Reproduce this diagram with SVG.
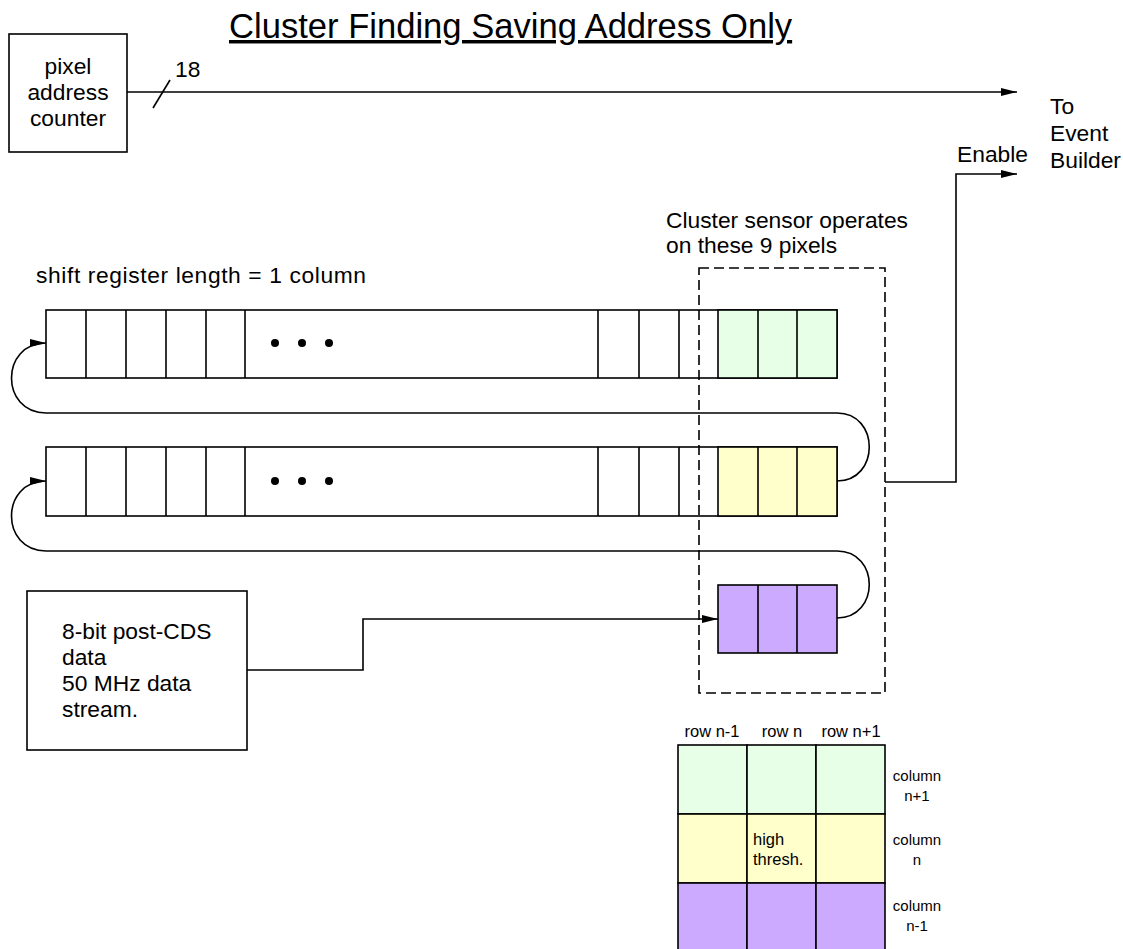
<svg xmlns="http://www.w3.org/2000/svg" width="1123" height="949" viewBox="0 0 1123 949">
<defs>
<marker id="arr" markerWidth="17" markerHeight="10" refX="16" refY="5" orient="auto" markerUnits="userSpaceOnUse"><path d="M0,1 L16,5 L0,9 Z" fill="#000"/></marker>
<style>
.ln{fill:none;stroke:#000;stroke-width:1.6}
.box{fill:#fff;stroke:#000;stroke-width:1.6}
.g{fill:#E6FFE6;stroke:#000;stroke-width:1.6}
.y{fill:#FFFFCC;stroke:#000;stroke-width:1.6}
.p{fill:#CCAAFF;stroke:#000;stroke-width:1.6}
.dash{fill:none;stroke:#000;stroke-width:1.6;stroke-dasharray:10 5}
.t{font-family:"Liberation Sans",Arial,sans-serif;font-size:22.8px;fill:#000}
.s{font-family:"Liberation Sans",Arial,sans-serif;font-size:16.5px;fill:#000}
.c{font-family:"Liberation Sans",Arial,sans-serif;font-size:15px;fill:#000;text-anchor:middle}
.m{text-anchor:middle}
</style>
</defs>
<rect width="1123" height="949" fill="#fff"/>

<text id="title" x="229" y="38" font-family="Liberation Sans, Arial, sans-serif" font-size="34.6" text-decoration="underline">Cluster Finding Saving Address Only</text>

<g id="counter">
<rect class="box" x="9" y="34" width="118" height="118"/>
<text class="t m" x="68" y="74">pixel</text>
<text class="t m" x="68" y="100">address</text>
<text class="t m" x="68" y="126">counter</text>
</g>

<g id="dest">
<text class="t" x="1050" y="114">To</text>
<text class="t" x="1050" y="141">Event</text>
<text class="t" x="1050" y="168">Builder</text>
</g>

<g id="reg1">
<rect class="box" x="46" y="310" width="791" height="68"/>
<rect class="g" x="718" y="310" width="119" height="68"/>
<path class="ln" d="M86,310V378M126,310V378M166,310V378M206,310V378M245,310V378M598,310V378M639,310V378M679,310V378M758,310V378M797,310V378"/>
<circle cx="275" cy="343" r="4"/><circle cx="302" cy="343" r="4"/><circle cx="329" cy="343" r="4"/>
</g>

<g id="reg2">
<rect class="box" x="46" y="447" width="791" height="69"/>
<rect class="y" x="718" y="447" width="119" height="69"/>
<path class="ln" d="M86,447V516M126,447V516M166,447V516M206,447V516M245,447V516M598,447V516M639,447V516M679,447V516M758,447V516M797,447V516"/>
<circle cx="275" cy="481" r="4"/><circle cx="302" cy="481" r="4"/><circle cx="329" cy="481" r="4"/>
</g>

<g id="reg3">
<rect class="p" x="718" y="585" width="119" height="68"/>
<path class="ln" d="M758,585V653M797,585V653"/>
</g>

<g id="source">
<rect class="box" x="27" y="591" width="220" height="159"/>
<text class="t" x="62" y="639">8-bit post-CDS</text>
<text class="t" x="62" y="665">data</text>
<text class="t" x="62" y="691">50 MHz data</text>
<text class="t" x="62" y="717">stream.</text>
</g>

<g id="cluster">
<rect class="dash" x="699" y="268" width="186" height="425"/>
<text class="t" x="666" y="228">Cluster sensor operates</text>
<text class="t" x="666" y="253">on these 9 pixels</text>
</g>

<text id="shiftlabel" class="t" x="36" y="283" textLength="330" lengthAdjust="spacing">shift register length = 1 column</text>

<g id="connectors">
<path class="ln" d="M127,92H1017" marker-end="url(#arr)"/>
<path class="ln" d="M153,108L170,80"/>
<text class="t" x="175" y="77">18</text>
<path class="ln" d="M837,481C880,481 880,413 837,413H46C0,413 0,343 46,343" marker-end="url(#arr)"/>
<path class="ln" d="M837,618C880,618 880,551 837,551H46C0,551 0,481 46,481" marker-end="url(#arr)"/>
<path class="ln" d="M247,670H363V619H718" marker-end="url(#arr)"/>
<path class="ln" d="M885,482H956V174H1017" marker-end="url(#arr)"/>
<text class="t" x="957" y="162">Enable</text>
</g>

<g id="legend">
<rect class="g" x="678" y="745" width="69" height="69"/>
<rect class="g" x="747" y="745" width="69" height="69"/>
<rect class="g" x="816" y="745" width="69" height="69"/>
<rect class="y" x="678" y="814" width="69" height="69"/>
<rect class="y" x="747" y="814" width="69" height="69"/>
<rect class="y" x="816" y="814" width="69" height="69"/>
<rect class="p" x="678" y="883" width="69" height="69"/>
<rect class="p" x="747" y="883" width="69" height="69"/>
<rect class="p" x="816" y="883" width="69" height="69"/>
<text class="s m" x="712" y="737">row n-1</text>
<text class="s m" x="782" y="737">row n</text>
<text class="s m" x="851" y="737">row n+1</text>
<text class="s" x="753" y="845" font-size="18.5">high</text>
<text class="s" x="753" y="865" font-size="18.5">thresh.</text>
<text class="c" x="917" y="781">column</text>
<text class="c" x="917" y="801">n+1</text>
<text class="c" x="917" y="845">column</text>
<text class="c" x="917" y="865">n</text>
<text class="c" x="917" y="911">column</text>
<text class="c" x="917" y="931">n-1</text>
</g>
</svg>
